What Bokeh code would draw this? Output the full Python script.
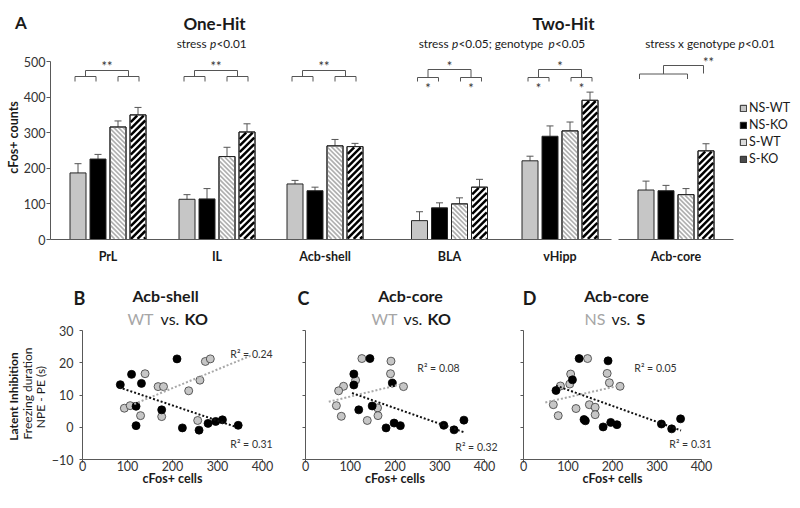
import math
from bokeh.plotting import figure
from bokeh.models import (ColumnDataSource, Whisker, TeeHead, Legend, LegendItem,
                          FixedTicker, Range1d)
from bokeh.layouts import column, row
from bokeh.embed import file_html
from bokeh.resources import INLINE
from bokeh.core.properties import value

FONT = "Lato"
TXT = "#1a1a1a"
AXC = "#595959"
GREY = "#c6c6c6"

# ================= Panel A data =================
regions = ["PrL", "IL", "Acb-shell", "BLA", "vHipp", "Acb-core"]
series_names = ["NS-WT", "NS-KO", "S-WT", "S-KO"]
ns_wt = [187, 113, 156, 53, 221, 139]
ns_wt_err = [26, 13, 10, 25, 13, 25]
ns_ko = [226, 114, 137, 89, 290, 137]
ns_ko_err = [13, 29, 10, 14, 29, 15]
s_wt = [316, 233, 263, 100, 305, 126]
s_wt_err = [17, 26, 18, 17, 25, 17]
s_ko = [350, 302, 261, 147, 391, 249]
s_ko_err = [21, 23, 9, 22, 23, 20]
a_y_ticks = [0, 100, 200, 300, 400, 500]

# ================= Panels B-D data =================
sc_x_ticks = [0, 100, 200, 300, 400]
sc_y_ticks = [-10, 0, 10, 20, 30]

# B: Acb-shell, WT (grey) vs KO (black)
b_wt_x = [93, 106, 139, 129, 168, 180, 176, 236, 256, 261, 273, 284]
b_wt_y = [5.9, 6.7, 16.6, 3.6, 12.6, 12.6, 3.3, 11.3, 2.1, 14.6, 20.4, 21.2]
b_ko_x = [84, 109, 131, 119, 119, 210, 176, 222, 259, 279, 296, 311, 346]
b_ko_y = [13.2, 16.4, 13.6, 6.5, 0.5, 21.2, 5.4, -0.2, -0.9, 1.2, 1.8, 2.3, 0.6]
b_wt_fit_x = [115, 374]
b_wt_fit_y = [7.2, 22.2]
b_ko_fit_x = [81, 337]
b_ko_fit_y = [12.4, 0.3]
b_r2 = ["R\u00b2 = 0.24", "R\u00b2 = 0.31"]

# C: Acb-core, WT (grey) vs KO (black)
c_wt_x = [126, 191, 190, 112, 85, 74, 219, 69, 80, 161, 162, 138]
c_wt_y = [21.3, 20.5, 16.6, 14.6, 12.7, 11.3, 12.6, 6.7, 3.4, 6.0, 3.6, 2.1]
c_ko_x = [144, 108, 108, 194, 149, 119, 180, 198, 212, 309, 332, 354]
c_ko_y = [21.3, 16.5, 13.1, 13.7, 6.6, 5.4, -0.2, 1.3, 0.5, 0.6, -0.8, 2.2]
c_wt_fit_x = [52, 216]
c_wt_fit_y = [7.9, 13.4]
c_ko_fit_x = [104, 353]
c_ko_fit_y = [10.6, -1.5]
c_r2 = ["R\u00b2 = 0.08", "R\u00b2 = 0.32"]

# D: Acb-core, NS (grey) vs S (black)
d_ns_x = [144, 188, 106, 104, 83, 193, 217, 67, 78, 118, 148, 161, 161]
d_ns_y = [21.3, 16.7, 16.5, 13.4, 12.8, 13.8, 12.7, 7.0, 3.6, 5.8, 7.0, 6.2, 3.9]
d_s_x = [125, 190, 110, 73, 136, 139, 179, 196, 210, 310, 333, 353]
d_s_y = [21.3, 20.6, 14.7, 11.4, 2.4, 2.0, 0.1, 1.5, 0.8, 1.0, -0.5, 2.6]
d_ns_fit_x = [49, 215]
d_ns_fit_y = [7.7, 12.9]
d_s_fit_x = [73, 354]
d_s_fit_y = [12.9, -1.0]
d_r2 = ["R\u00b2 = 0.05", "R\u00b2 = 0.31"]


def txt(p, x, y, s, size="12px", style="normal", color=TXT, align="center",
        baseline="middle", angle=0.0):
    p.text(x=[x], y=[y], text=[s], text_font=value(FONT), text_font_size=value(size),
           text_font_style=value(style), text_color=value(color), text_align=value(align),
           text_baseline=value(baseline), angle=angle)


# ================= Panel A figure (frame = whole figure) =================
A_W, A_H = 800, 264
K = 178.0 / 500.0          # px per count
BASE_PX = 239              # page y of the zero line
pA = figure(width=A_W, height=A_H, output_backend="svg", toolbar_location=None,
            x_range=Range1d(0, A_W),
            y_range=Range1d(-(A_H - BASE_PX) / K, BASE_PX / K),
            min_border_left=0, min_border_right=0, min_border_top=0, min_border_bottom=0)
pA.outline_line_color = None
pA.grid.visible = False


def ay(py):
    return (BASE_PX - py) / K


group_x = [107.5, 216.5, 324.5, 449.0, 559.5, 675.5]
bar_off = [-30, -10, 10, 30]
BAR_W = 16

vals = [ns_wt, ns_ko, s_wt, s_ko]
errs = [ns_wt_err, ns_ko_err, s_wt_err, s_ko_err]
fills = [GREY, "#000000", "#ffffff", "#ffffff"]


def stripes(xcs, tops, pitch, direction, inset=0.7):
    x0s, y0s, x1s, y1s = [], [], [], []
    for xc, t in zip(xcs, tops):
        x0 = xc - BAR_W / 2 + inset
        bw = BAR_W - 2 * inset
        h = t * K - inset
        b = inset
        if direction == "/":
            c = -h
            while c < bw:
                xa, xb = max(0, c + b), min(bw, c + h)
                if xb > xa:
                    x0s.append(x0 + xa); y0s.append((xa - c) / K)
                    x1s.append(x0 + xb); y1s.append((xb - c) / K)
                c += pitch
        else:
            c = 0
            while c < bw + h:
                xa, xb = max(0, c - h), min(bw, c - b)
                if xb > xa:
                    x0s.append(x0 + xa); y0s.append((c - xa) / K)
                    x1s.append(x0 + xb); y1s.append((c - xb) / K)
                c += pitch
    return dict(x0=x0s, y0=y0s, x1=x1s, y1=y1s)


bar_rends, bar_srcs = [], []
for i, (v, e, off, fc) in enumerate(zip(vals, errs, bar_off, fills)):
    xs = [cx + off for cx in group_x]
    src = ColumnDataSource(dict(x=xs, top=v,
                                upper=[a + b for a, b in zip(v, e)],
                                lower=[a - b for a, b in zip(v, e)]))
    bar_srcs.append(src)
    r = pA.vbar(x="x", top="top", bottom=0, width=BAR_W, source=src,
                fill_color=fc, line_color="#262626", line_width=1)
    bar_rends.append(r)
    if i == 2:
        pA.segment(line_color="#b0b0b0", line_width=1.7, line_cap="butt",
                   source=ColumnDataSource(stripes(xs, v, 4.6, "\\")),
                   x0="x0", y0="y0", x1="x1", y1="y1")
    if i == 3:
        pA.segment(line_color="#000000", line_width=2.5, line_cap="butt",
                   source=ColumnDataSource(stripes(xs, v, 6.5, "/")),
                   x0="x0", y0="y0", x1="x1", y1="y1")
    if i >= 2:
        pA.vbar(x="x", top="top", bottom=0, width=BAR_W, source=src,
                fill_color=None, line_color="#262626", line_width=1)
    pA.add_layout(Whisker(source=src, base="x", upper="upper", lower="lower",
                          line_color="#555555", line_width=1,
                          upper_head=TeeHead(size=7, line_color="#555555", line_width=1),
                          lower_head=TeeHead(size=7, line_color="#555555", line_width=1)))

# broken baseline
pA.segment(x0=[50, group_x[5] - 57.5], y0=[0, 0],
           x1=[group_x[4] + 51.5, group_x[5] + 57.5], y1=[0, 0],
           line_color=AXC, line_width=1)

ya = pA.yaxis[0]
ya.fixed_location = 50
ya.ticker = FixedTicker(ticks=a_y_ticks)
ya.bounds = (0, 500)
ya.axis_line_color = AXC
ya.major_tick_line_color = AXC
ya.minor_tick_line_color = None
ya.major_tick_out = 4
ya.major_tick_in = 0
ya.major_label_standoff = 1
ya.major_label_text_font = FONT
ya.major_label_text_font_size = "12.5px"
ya.major_label_text_color = "#333333"

xa = pA.xaxis[0]
xa.fixed_location = 0
xa.ticker = FixedTicker(ticks=group_x)
xa.major_label_overrides = {gx: name for gx, name in zip(group_x, regions)}
xa.axis_line_color = None
xa.major_tick_line_color = None
xa.minor_tick_line_color = None
xa.major_tick_out = 0
xa.major_tick_in = 0
xa.major_label_standoff = 9
xa.major_label_text_font = FONT
xa.major_label_text_font_size = "12.5px"
xa.major_label_text_font_style = "bold"
xa.major_label_text_color = TXT

# significance brackets
bxs, bys = [], []


def bracket(x0, x1, ytop, ybot):
    bxs.append([x0, x0, x1, x1])
    bys.append([ybot, ytop, ytop, ybot])


STAR = dict(size="13px", color="#333333")
for cx in group_x[:3]:
    bracket(cx - 33, cx - 12, ay(76), ay(81))
    bracket(cx + 10, cx + 31, ay(76), ay(81))
    bracket(cx - 22.5, cx + 20.5, ay(70), ay(76))
    txt(pA, cx - 1, ay(65), "**", **STAR)
for cx in group_x[3:5]:
    bracket(cx - 32, cx - 11, ay(77), ay(81))
    bracket(cx + 11, cx + 32, ay(77), ay(81))
    bracket(cx - 21.5, cx + 21.5, ay(69), ay(77))
    txt(pA, cx, ay(65), "*", **STAR)
    txt(pA, cx - 21.5, ay(87), "*", **STAR)
    txt(pA, cx + 21.5, ay(87), "*", **STAR)
cx = group_x[5]
bracket(cx - 36.5, cx + 11.5, ay(73.5), ay(78.5))
bxs.append([cx - 12.5, cx - 12.5, cx + 27.5, cx + 27.5])
bys.append([ay(73.5), ay(65), ay(65), ay(73)])
txt(pA, cx + 32.5, ay(61), "**", **STAR)
pA.multi_line(xs=bxs, ys=bys, line_color="#555555", line_width=1)

# headings
txt(pA, 214, ay(23), "One-Hit", size="17px", style="bold")
txt(pA, 563, ay(23), "Two-Hit", size="17px", style="bold")
sub_y = ay(43)
SUB = "11.8px"
txt(pA, 206, sub_y, "stress", size=SUB, align="right")
txt(pA, 209.5, sub_y, "p", size=SUB, style="italic", align="left")
txt(pA, 216, sub_y, "<0.01", size=SUB, align="left")
txt(pA, 448, sub_y, "stress", size=SUB, align="right")
txt(pA, 451.5, sub_y, "p", size=SUB, style="italic", align="left")
txt(pA, 458, sub_y, "<0.05; genotype", size=SUB, align="left")
txt(pA, 548, sub_y, "p", size=SUB, style="italic", align="left")
txt(pA, 554.5, sub_y, "<0.05", size=SUB, align="left")
txt(pA, 735, sub_y, "stress x genotype", size=SUB, align="right")
txt(pA, 738, sub_y, "p", size=SUB, style="italic", align="left")
txt(pA, 744.5, sub_y, "<0.01", size=SUB, align="left")

txt(pA, 20.5, ay(22), "A", size="17px", style="bold")
txt(pA, 13, ay(137), "cFos+ counts", size="12.5px", style="bold", angle=math.pi / 2)

# legend (hidden stand-in swatches for the striped series)
sw_wt = pA.vbar(x="x", top="top", width=BAR_W, source=bar_srcs[2],
                fill_color="#dcdcdc", line_color="#262626", visible=False)
sw_ko = pA.vbar(x="x", top="top", width=BAR_W, source=bar_srcs[3],
                fill_color="#4a4a4a", line_color="#262626", visible=False)
leg_r = [bar_rends[0], bar_rends[1], sw_wt, sw_ko]
legend = Legend(items=[LegendItem(label=n, renderers=[r]) for n, r in zip(series_names, leg_r)],
                location=(739, 98), orientation="vertical", glyph_width=8, glyph_height=8,
                label_standoff=2, label_text_font=FONT, label_text_font_size="12.5px",
                label_text_color=TXT, label_height=12, spacing=2, padding=0, margin=0,
                border_line_color=None, background_fill_alpha=0,
                inactive_fill_alpha=0)
pA.add_layout(legend)

# ================= Scatter panels =================
SC_H = 508 - A_H
KY = 129 / 40.0
X_AXIS_PX = 459


def sy(py):
    return -10 + (X_AXIS_PX - py) / KY


def make_sc(width, fig_left_px, axis_px, kx, show_ylabels):
    loc = axis_px - fig_left_px
    p = figure(width=width, height=SC_H, output_backend="svg", toolbar_location=None,
               x_range=Range1d(-loc / kx, (width - loc) / kx),
               y_range=Range1d(sy(A_H + SC_H), sy(A_H)),
               min_border_left=0, min_border_right=0, min_border_top=0, min_border_bottom=0)
    p.outline_line_color = None
    p.grid.visible = False
    p.xaxis.fixed_location = -10
    p.yaxis.fixed_location = 0
    p.xaxis.ticker = FixedTicker(ticks=sc_x_ticks)
    p.xaxis.bounds = (0, 400)
    p.yaxis.ticker = FixedTicker(ticks=sc_y_ticks)
    p.yaxis.bounds = (-10, 30)
    for ax in (p.xaxis[0], p.yaxis[0]):
        ax.axis_line_color = AXC
        ax.major_tick_line_color = AXC
        ax.minor_tick_line_color = None
        ax.major_tick_in = 0
        ax.major_tick_out = 3
        ax.major_label_text_font = FONT
        ax.major_label_text_font_size = "12.5px"
        ax.major_label_text_color = "#333333"
    p.xaxis.major_label_standoff = -2
    p.xaxis.axis_label = "cFos+ cells"
    p.xaxis.axis_label_text_font = FONT
    p.xaxis.axis_label_text_font_size = "12.5px"
    p.xaxis.axis_label_text_font_style = "bold"
    p.xaxis.axis_label_text_color = TXT
    p.xaxis.axis_label_standoff = -3
    p.yaxis.major_label_standoff = 6
    if not show_ylabels:
        p.yaxis.major_label_overrides = {t: "" for t in sc_y_ticks}
    return p, (lambda px: (px - axis_px) / kx)


def draw_sc(p, gx, gy, kx_, ky_, gfx, gfy, kfx, kfy):
    p.scatter(gx, gy, size=8, fill_color=GREY, line_color="#3a3a3a", line_width=0.8)
    p.scatter(kx_, ky_, size=8, fill_color="#000000", line_color="#000000", line_width=0.8)
    p.line(gfx, gfy, line_color="#a8a8a8", line_width=2, line_dash="2 2")
    p.line(kfx, kfy, line_color="#111111", line_width=2, line_dash="2 2")


def titles(p, sx, t1, t1_px, left, mid, right, letter, letter_px):
    txt(p, sx(t1_px), sy(295), t1, size="16px", style="bold")
    txt(p, sx(left[1]), sy(318), left[0], size="16px", color="#a6a6a6", align="right")
    txt(p, sx(mid[1]), sy(318), mid[0], size="16px")
    txt(p, sx(right[1]), sy(318), right[0], size="16px", style="bold", align="left")
    txt(p, sx(letter_px), sy(297), letter, size="18px", style="bold")


R2 = dict(size="10.5px", color="#333333")

# B
pB, sxB = make_sc(280, 0, 82, 0.45, True)
draw_sc(pB, b_wt_x, b_wt_y, b_ko_x, b_ko_y, b_wt_fit_x, b_wt_fit_y, b_ko_fit_x, b_ko_fit_y)
txt(pB, sxB(251), sy(353), b_r2[0], **R2)
txt(pB, sxB(251), sy(443), b_r2[1], **R2)
titles(pB, sxB, "Acb-shell", 165, ("WT", 153), ("vs.", 169.5), ("KO", 184), "B", 79)
txt(pB, sxB(12.5), sy(396), "Latent Inhibition", size="12px", style="bold", angle=math.pi / 2)
txt(pB, sxB(27), sy(393), "Freezing duration", size="12px", angle=math.pi / 2)
txt(pB, sxB(40), sy(395), "NPE - PE  (s)", size="12px", angle=math.pi / 2)

# C
pC, sxC = make_sc(230, 280, 305, 0.4475, False)
draw_sc(pC, c_wt_x, c_wt_y, c_ko_x, c_ko_y, c_wt_fit_x, c_wt_fit_y, c_ko_fit_x, c_ko_fit_y)
txt(pC, sxC(438), sy(367), c_r2[0], **R2)
txt(pC, sxC(476), sy(446), c_r2[1], **R2)
titles(pC, sxC, "Acb-core", 410, ("WT", 397), ("vs.", 412.5), ("KO", 427), "C", 303)

# D
pD, sxD = make_sc(290, 510, 523, 0.445, False)
draw_sc(pD, d_ns_x, d_ns_y, d_s_x, d_s_y, d_ns_fit_x, d_ns_fit_y, d_s_fit_x, d_s_fit_y)
txt(pD, sxD(655), sy(367), d_r2[0], **R2)
txt(pD, sxD(690), sy(443), d_r2[1], **R2)
titles(pD, sxD, "Acb-core", 616, ("NS", 605), ("vs.", 620.5), ("S", 636), "D", 529)

layout = column(pA, row(pB, pC, pD, spacing=0), spacing=0)
open("out.html", "w").write(file_html(layout, INLINE))
